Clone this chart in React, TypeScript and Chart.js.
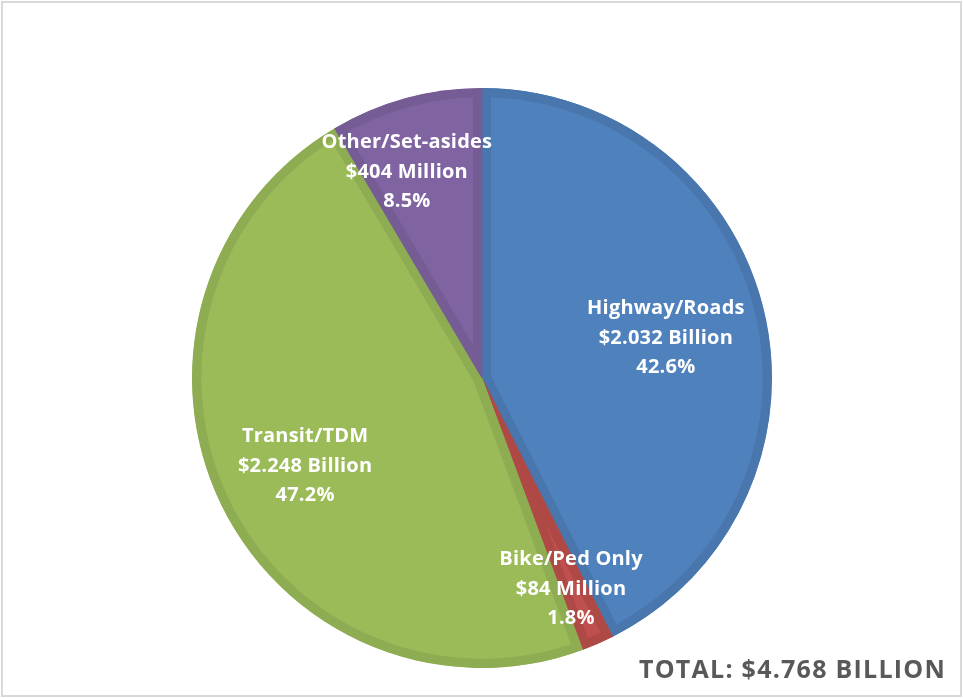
import React, { useEffect, useRef } from "react";
import { Chart, registerables } from "chart.js";

Chart.register(...registerables);

const categories = ["Highway/Roads", "Bike/Ped Only", "Transit/TDM", "Other/Set-asides"];
const amounts = ["$2.032 Billion", "$84 Million", "$2.248 Billion", "$404 Million"];
const percents = [42.6, 1.8, 47.2, 8.5];
const fillColors = ["#4F81BD", "#C0504D", "#9BBB59", "#8064A2"];
const edgeColors = ["#4876AD", "#AE4946", "#8EAC51", "#755C95"];
// label anchor offsets from pie centre, in units of the radius
const labelDX = [0.634, 0.307, -0.61, -0.259];
const labelDY = [-0.141, 0.724, 0.3, -0.714];
const totalText = "TOTAL: $4.768 BILLION";

const W = 963;
const H = 698;

const overlay = {
  id: "overlay",
  afterDatasetsDraw(chart: any) {
    const ctx = chart.ctx;
    const meta = chart.getDatasetMeta(0);
    ctx.save();
    ctx.fillStyle = "#ffffff";
    ctx.textAlign = "center";
    ctx.textBaseline = "middle";
    ctx.font = "bold 20px 'Open Sans'";
    (ctx as any).letterSpacing = "0.2px";
    meta.data.forEach((arc: any, i: number) => {
      const r = arc.outerRadius;
      const cx = arc.x + labelDX[i] * r;
      const cy = arc.y + labelDY[i] * r;
      const lines = [categories[i], amounts[i], percents[i].toFixed(1) + "%"];
      lines.forEach((t, j) => ctx.fillText(t, cx, cy + (j - 1) * 29.5 + 1));
    });
    ctx.fillStyle = "#595959";
    ctx.textAlign = "right";
    ctx.textBaseline = "alphabetic";
    ctx.font = "bold 25px 'Open Sans'";
    (ctx as any).letterSpacing = "1.25px";
    ctx.fillText(totalText, 946, 678);
    (ctx as any).letterSpacing = "0px";
    ctx.strokeStyle = "#d9d9d9";
    ctx.lineWidth = 2;
    ctx.strokeRect(2, 2, W - 4, H - 4);
    ctx.restore();
  },
};

export default function App() {
  const ref = useRef<HTMLCanvasElement>(null);
  useEffect(() => {
    if (!ref.current) return;
    const chart = new Chart(ref.current, {
      type: "pie",
      data: {
        labels: categories,
        datasets: [
          {
            data: percents,
            backgroundColor: fillColors,
            borderColor: edgeColors,
            borderWidth: 9,
            borderAlign: "inner",
            hoverOffset: 0,
            offset: 0,
          } as any,
        ],
      },
      options: {
        animation: false,
        responsive: false,
        maintainAspectRatio: false,
        layout: { padding: { left: 192, right: 191, top: 88, bottom: 30 } },
        plugins: { legend: { display: false }, tooltip: { enabled: false } },
      },
      plugins: [overlay],
    });
    return () => chart.destroy();
  }, []);
  return (
    <div style={{ position: "fixed", left: 0, top: 0, width: W, height: H, background: "#fff" }}>
      <canvas ref={ref} width={W} height={H} style={{ display: "block", width: W, height: H }} />
    </div>
  );
}
